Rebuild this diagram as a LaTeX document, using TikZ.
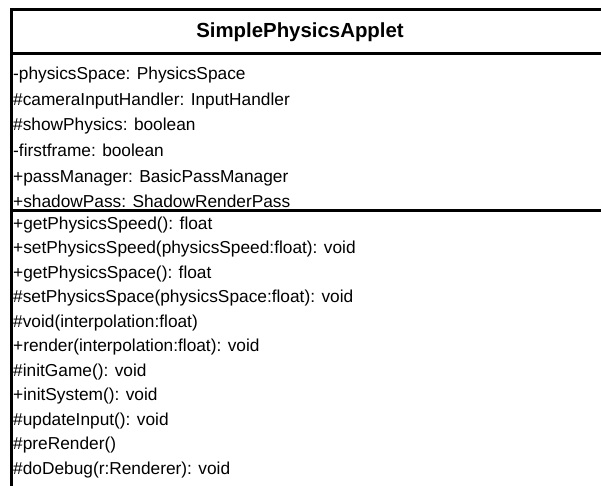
\documentclass[tikz,border=0pt]{standalone}
\usepackage{fontspec}
\setmainfont{Liberation Sans}
\usetikzlibrary{positioning}

\begin{document}
\begin{tikzpicture}[x=1pt, y=-1pt, node distance=0pt, every node/.style={inner sep=0pt}, member/.style={anchor=north west,font=\fontsize{17.3}{19}\selectfont,minimum height=24.1pt,text height=12.5pt,text depth=3.5pt}, attr/.style={member,minimum height=25.3pt}, classname/.style={font=\bfseries\fontsize{20.4}{22}\selectfont}, border/.style={line width=3pt}]
\useasboundingbox (0,0) rectangle (601,486);
% class box, cut off at the right and bottom edge
\coordinate (tl) at (11.5,10);
\coordinate (tr) at (610,10);
\coordinate (bl) at (11.5,495);
\coordinate (sl) at (11.5,53.5);
\coordinate (sr) at (610,53.5);
\coordinate (ml) at (11.5,210);
\coordinate (mr) at (610,210);
\draw[border] (tr)--(tl)--(bl);
\draw[border] (sl)--(sr);\draw[border] (ml)--(mr);
\node[classname] (N) at (300,32) {SimplePhysicsApplet};
% attributes
\node[attr] (a1) at (13,62) {-physicsSpace: PhysicsSpace};
\node[below=of a1.south west,attr] (a2) {\#cameraInputHandler: InputHandler};
\node[below=of a2.south west,attr] (a3) {\#showPhysics: boolean};
\node[below=of a3.south west,attr] (a4) {-firstframe: boolean};
\node[below=of a4.south west,attr] (a5) {+passManager: BasicPassManager};
\node[below=of a5.south west,attr] (a6) {+shadowPass: ShadowRenderPass};
% operations
\node[member] (m1) at (13,212.5) {+getPhysicsSpeed(): float};
\node[below=of m1.south west,member] (m2) {+setPhysicsSpeed(physicsSpeed:float): void};
\node[below=of m2.south west,member] (m3) {+getPhysicsSpace(): float};
\node[below=of m3.south west,member] (m4) {\#setPhysicsSpace(physicsSpace:float): void};
\node[below=of m4.south west,member] (m5) {\#void(interpolation:float)};
\node[below=of m5.south west,member] (m6) {+render(interpolation:float): void};
\node[below=of m6.south west,member] (m7) {\#initGame(): void};
\node[below=of m7.south west,member] (m8) {+initSystem(): void};
\node[below=of m8.south west,member] (m9) {\#updateInput(): void};
\node[below=of m9.south west,member] (m10) {\#preRender()};
\node[below=of m10.south west,member] (m11) {\#doDebug(r:Renderer): void};
\end{tikzpicture}
\end{document}
